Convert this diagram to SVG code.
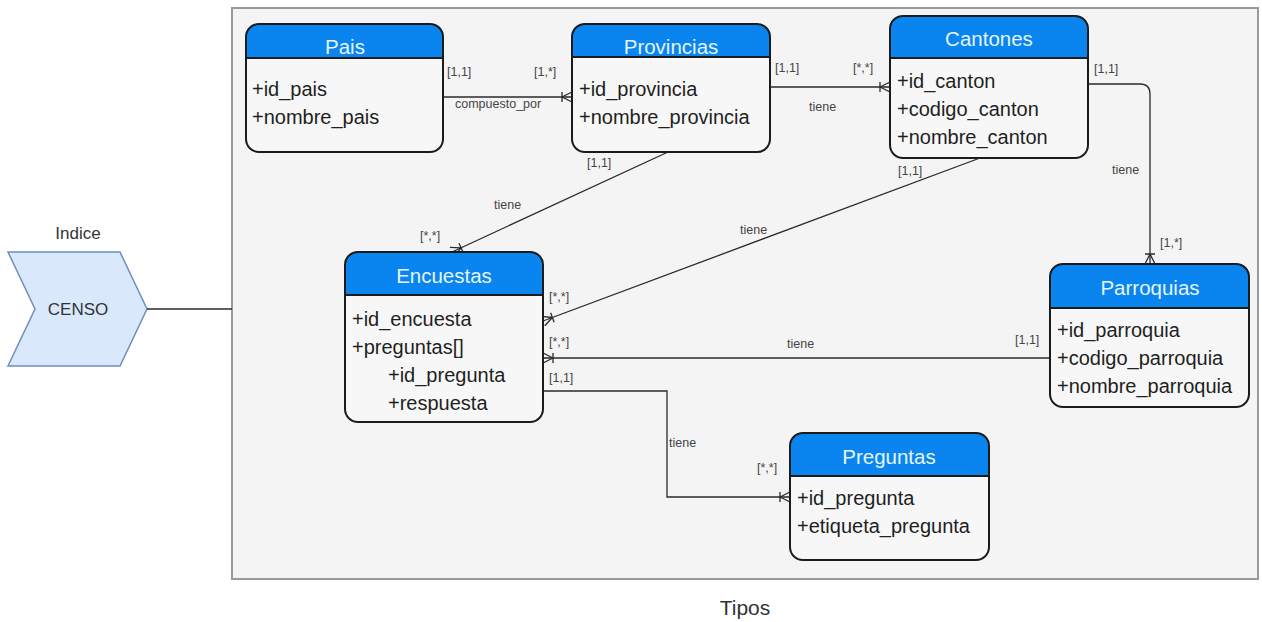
<svg xmlns="http://www.w3.org/2000/svg" width="1262" height="622" viewBox="0 0 1262 622">
  <style>
    .frame { fill: #f4f4f4; stroke: #9a9a9a; stroke-width: 2; }
    .box { fill: none; stroke: #1b1b1b; stroke-width: 2; }
    .body { fill: #f7f7f7; }
    .head { fill: #0a84ee; }
    .sep { stroke: #1b1b1b; stroke-width: 2; }
    .title { font-family: "Liberation Sans", Arial, sans-serif; font-size: 20.5px; fill: #e4f6ff; text-anchor: middle; dominant-baseline: central; }
    .attr { font-family: "Liberation Sans", Arial, sans-serif; font-size: 20px; fill: #1f1f1f; dominant-baseline: central; }
    .lbl { font-family: "Liberation Sans", Arial, sans-serif; font-size: 12.5px; fill: #444; dominant-baseline: central; }
    .edge { fill: none; stroke: #2a2a2a; stroke-width: 1.3; }
    .big { font-family: "Liberation Sans", Arial, sans-serif; font-size: 21px; fill: #333; text-anchor: middle; dominant-baseline: central; }
    .mid { font-family: "Liberation Sans", Arial, sans-serif; font-size: 17px; fill: #333; text-anchor: middle; dominant-baseline: central; }
  </style>
  <defs>
    <!-- one-or-many crow's foot, tip at the entity edge -->
    <marker id="many" markerUnits="userSpaceOnUse" viewBox="-12 -7 14 14" refX="0" refY="0" markerWidth="14" markerHeight="14" orient="auto">
      <path d="M-10,-5 L-10,5 M-10,0 L0,-5 M-10,0 L0,5" fill="none" stroke="#2a2a2a" stroke-width="1.3"/>
    </marker>
  </defs>

  <rect width="1262" height="622" fill="#ffffff"/>

  <!-- Tipos container -->
  <rect class="frame" x="232" y="8" width="1026" height="571"/>
  <text class="big" x="745" y="607">Tipos</text>

  <!-- Indice / CENSO -->
  <g id="censo">
    <text class="mid" x="78" y="233">Indice</text>
    <polygon points="8,252 120,252 147,309 120,366 8,366 35,309" fill="#dae8fc" stroke="#6c8ebf" stroke-width="1.5"/>
    <text class="mid" x="78" y="309">CENSO</text>
  </g>

  <g id="connectors">
    <path class="edge" d="M147,309 L232,309"/>
    <!-- Pais - Provincias -->
    <path class="edge" d="M443,97 L572,97" marker-end="url(#many)"/>
    <text class="lbl" x="447" y="72">[1,1]</text>
    <text class="lbl" x="534" y="72">[1,*]</text>
    <text class="lbl" x="455" y="104">compuesto_por</text>
    <!-- Provincias - Cantones -->
    <path class="edge" d="M770,87 L890,87" marker-end="url(#many)"/>
    <text class="lbl" x="775" y="68">[1,1]</text>
    <text class="lbl" x="853" y="68">[*,*]</text>
    <text class="lbl" x="809" y="107">tiene</text>
    <!-- Provincias - Encuestas -->
    <path class="edge" d="M668,152 L452,252" marker-end="url(#many)"/>
    <text class="lbl" x="587" y="163">[1,1]</text>
    <text class="lbl" x="494" y="205">tiene</text>
    <text class="lbl" x="420" y="236">[*,*]</text>
    <!-- Cantones - Encuestas -->
    <path class="edge" d="M980,158 L543,321" marker-end="url(#many)"/>
    <text class="lbl" x="898" y="171">[1,1]</text>
    <text class="lbl" x="740" y="230">tiene</text>
    <text class="lbl" x="549" y="297">[*,*]</text>
    <!-- Cantones - Parroquias -->
    <path class="edge" d="M1088,84 L1140,84 Q1150,84 1150,94 L1150,264" marker-end="url(#many)"/>
    <text class="lbl" x="1094" y="69">[1,1]</text>
    <text class="lbl" x="1112" y="170">tiene</text>
    <text class="lbl" x="1160" y="243">[1,*]</text>
    <!-- Parroquias - Encuestas -->
    <path class="edge" d="M1050,358 L543,358" marker-end="url(#many)"/>
    <text class="lbl" x="1015" y="340">[1,1]</text>
    <text class="lbl" x="787" y="344">tiene</text>
    <text class="lbl" x="549" y="342">[*,*]</text>
    <!-- Encuestas - Preguntas -->
    <path class="edge" d="M543,391 L667,391 L667,497 L790,497" marker-end="url(#many)"/>
    <text class="lbl" x="549" y="378">[1,1]</text>
    <text class="lbl" x="669" y="443">tiene</text>
    <text class="lbl" x="757" y="468">[*,*]</text>
  </g>

  <g id="pais">
    <rect class="body" x="246" y="24" width="197" height="128" rx="13"/>
    <path class="head" d="M246,58 L246,37 Q246,24 259,24 L430,24 Q443,24 443,37 L443,58 Z"/>
    <rect class="box" x="246" y="24" width="197" height="128" rx="13"/>
    <line class="sep" x1="246" y1="58" x2="443" y2="58"/>
    <text class="title" x="345" y="46">Pais</text>
    <text class="attr" x="252" y="89">+id_pais</text>
    <text class="attr" x="252" y="117">+nombre_pais</text>
  </g>

  <g id="provincias">
    <rect class="body" x="572" y="24" width="198" height="128" rx="13"/>
    <path class="head" d="M572,57 L572,37 Q572,24 585,24 L757,24 Q770,24 770,37 L770,57 Z"/>
    <rect class="box" x="572" y="24" width="198" height="128" rx="13"/>
    <line class="sep" x1="572" y1="57" x2="770" y2="57"/>
    <text class="title" x="671" y="46">Provincias</text>
    <text class="attr" x="579" y="89">+id_provincia</text>
    <text class="attr" x="579" y="117">+nombre_provincia</text>
  </g>

  <g id="cantones">
    <rect class="body" x="890" y="16" width="198" height="142" rx="13"/>
    <path class="head" d="M890,58 L890,29 Q890,16 903,16 L1075,16 Q1088,16 1088,29 L1088,58 Z"/>
    <rect class="box" x="890" y="16" width="198" height="142" rx="13"/>
    <line class="sep" x1="890" y1="58" x2="1088" y2="58"/>
    <text class="title" x="989" y="38">Cantones</text>
    <text class="attr" x="897" y="81">+id_canton</text>
    <text class="attr" x="897" y="109">+codigo_canton</text>
    <text class="attr" x="897" y="137">+nombre_canton</text>
  </g>

  <g id="encuestas">
    <rect class="body" x="345" y="252" width="198" height="170" rx="13"/>
    <path class="head" d="M345,295 L345,265 Q345,252 358,252 L530,252 Q543,252 543,265 L543,295 Z"/>
    <rect class="box" x="345" y="252" width="198" height="170" rx="13"/>
    <line class="sep" x1="345" y1="295" x2="543" y2="295"/>
    <text class="title" x="444" y="275">Encuestas</text>
    <text class="attr" x="352" y="319">+id_encuesta</text>
    <text class="attr" x="352" y="347">+preguntas[]</text>
    <text class="attr" x="388" y="375">+id_pregunta</text>
    <text class="attr" x="388" y="403">+respuesta</text>
  </g>

  <g id="parroquias">
    <rect class="body" x="1050" y="264" width="199" height="143" rx="13"/>
    <path class="head" d="M1050,308 L1050,277 Q1050,264 1063,264 L1236,264 Q1249,264 1249,277 L1249,308 Z"/>
    <rect class="box" x="1050" y="264" width="199" height="143" rx="13"/>
    <line class="sep" x1="1050" y1="308" x2="1249" y2="308"/>
    <text class="title" x="1150" y="287">Parroquias</text>
    <text class="attr" x="1057" y="330">+id_parroquia</text>
    <text class="attr" x="1057" y="358">+codigo_parroquia</text>
    <text class="attr" x="1057" y="386">+nombre_parroquia</text>
  </g>

  <g id="preguntas">
    <rect class="body" x="790" y="433" width="199" height="127" rx="13"/>
    <path class="head" d="M790,476 L790,446 Q790,433 803,433 L976,433 Q989,433 989,446 L989,476 Z"/>
    <rect class="box" x="790" y="433" width="199" height="127" rx="13"/>
    <line class="sep" x1="790" y1="476" x2="989" y2="476"/>
    <text class="title" x="889" y="456">Preguntas</text>
    <text class="attr" x="797" y="498">+id_pregunta</text>
    <text class="attr" x="797" y="526">+etiqueta_pregunta</text>
  </g>
</svg>
